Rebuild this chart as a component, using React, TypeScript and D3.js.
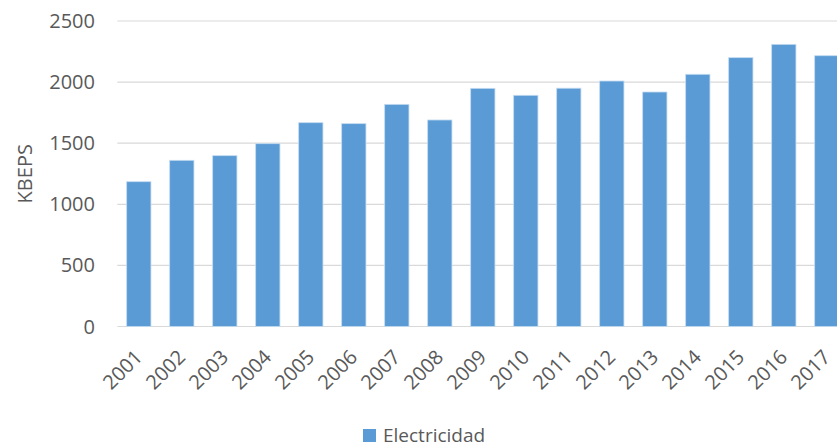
import React, { useEffect, useRef } from "react";
import * as d3 from "d3";

const years = ["2001", "2002", "2003", "2004", "2005", "2006", "2007", "2008", "2009",
  "2010", "2011", "2012", "2013", "2014", "2015", "2016", "2017"];
const electricidad = [1185, 1360, 1398, 1496, 1668, 1660, 1818, 1690, 1949,
  1892, 1950, 2009, 1919, 2064, 2200, 2309, 2216];
const yTicks = [0, 500, 1000, 1500, 2000, 2500];
const seriesName = "Electricidad";
const yTitle = "KBEPS";

export default function App() {
  const ref = useRef<SVGSVGElement | null>(null);

  useEffect(() => {
    document.body.style.margin = "0";
    const width = 837, height = 447;
    const left = 117.3, right = 848.3, top = 21, bottom = 326.5;
    const font = "'Open Sans', 'Liberation Sans', sans-serif";
    const textColor = "#595959";

    const svg = d3.select(ref.current);
    svg.selectAll("*").remove();
    svg.attr("width", width).attr("height", height);

    const x = d3.scaleBand().domain(years).range([left, right]).paddingInner(0.435).paddingOuter(0.2175);
    const y = d3.scaleLinear().domain([0, 2500]).range([bottom, top]);

    // gridlines
    svg.append("g")
      .selectAll("line")
      .data(yTicks)
      .join("line")
      .attr("x1", left)
      .attr("x2", width)
      .attr("y1", d => y(d))
      .attr("y2", d => y(d))
      .attr("stroke", "#d9d9d9")
      .attr("stroke-width", 1.2);

    // y labels
    svg.append("g")
      .selectAll("text")
      .data(yTicks)
      .join("text")
      .attr("x", 95)
      .attr("y", d => y(d))
      .attr("dy", "0.35em")
      .attr("text-anchor", "end")
      .attr("font-family", font)
      .attr("font-size", 20)
      .attr("fill", textColor)
      .text(d => d);

    svg.append("text")
      .attr("transform", `translate(32,${(top + bottom) / 2}) rotate(-90)`)
      .attr("text-anchor", "middle")
      .attr("font-family", font)
      .attr("font-size", 20)
      .attr("fill", textColor)
      .text(yTitle);

    // bars
    svg.append("g")
      .selectAll("rect")
      .data(electricidad)
      .join("rect")
      .attr("x", (d, i) => x(years[i]) as number)
      .attr("y", d => y(d))
      .attr("width", x.bandwidth())
      .attr("height", d => y(0) - y(d))
      .attr("fill", "#5b9bd5")
      .attr("stroke", "#c5dcf0")
      .attr("stroke-width", 0.8);

    // x labels
    svg.append("g")
      .selectAll("text")
      .data(years)
      .join("text")
      .attr("transform", d => `translate(${(x(d) as number) + x.bandwidth() / 2 - 5},${bottom + 22}) rotate(-45)`)
      .attr("text-anchor", "end")
      .attr("dy", "0.7em")
      .attr("font-family", font)
      .attr("font-size", 20)
      .attr("fill", textColor)
      .text(d => d);

    // legend
    const lg = svg.append("g").attr("transform", "translate(363,429)");
    lg.append("rect").attr("width", 13).attr("height", 13).attr("fill", "#5b9bd5");
    lg.append("text")
      .attr("x", 20)
      .attr("y", 6.5)
      .attr("dy", "0.35em")
      .attr("font-family", font)
      .attr("font-size", 19)
      .attr("fill", textColor)
      .text(seriesName);
  }, []);

  return <svg ref={ref} style={{ display: "block" }}></svg>;
}
